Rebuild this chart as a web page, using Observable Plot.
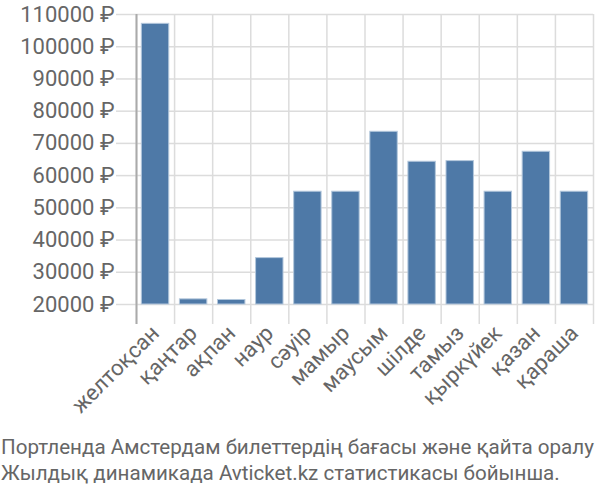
<!DOCTYPE html>
<html>
<head>
<meta charset="utf-8">
<script src="https://cdn.jsdelivr.net/npm/d3@7"></script>
<script src="https://cdn.jsdelivr.net/npm/@observablehq/plot@0.6"></script>
<style>
  body { margin: 0; background: #fff; }
  #caption { font-family: Roboto, sans-serif; font-size: 20.6px; line-height: 26px; color: #666; white-space: nowrap; padding-top: 4px; padding-left: 1px; }
</style>
</head>
<body>
<div id="chart"></div>
<div id="caption">Портленда Амстердам билеттердің бағасы және қайта оралу<br>Жылдық динамикада Avticket.kz статистикасы бойынша.</div>
<script>
const months = ["желтоқсан","қаңтар","ақпан","наур","сәуір","мамыр","маусым","шілде","тамыз","қыркүйек","қазан","қараша"];
const prices = [107100, 21600, 21400, 34400, 55000, 55000, 73600, 64300, 64500, 55000, 67400, 55000];
const yTicks = [20000, 30000, 40000, 50000, 60000, 70000, 80000, 90000, 100000, 110000];
const currency = "₽";

const data = months.map((m, i) => ({i, m, p: prices[i]}));
const edges = d3.range(months.length + 1);

const plot = Plot.plot({
  width: 600,
  height: 430,
  marginTop: 14,
  marginBottom: 126,
  marginLeft: 136,
  marginRight: 7,
  style: {fontFamily: "Roboto, sans-serif", color: "#666", background: "#fff"},
  x: {type: "linear", domain: [0, months.length], axis: null},
  y: {domain: [20000, 110000], axis: null},
  marks: [
    Plot.gridY(yTicks, {stroke: "#dcdcdc", strokeOpacity: 1, strokeWidth: 1.5}),
    Plot.gridX(edges, {stroke: "#dcdcdc", strokeOpacity: 1, strokeWidth: 1.5}),
    Plot.axisY(yTicks, {label: null, tickSize: 20, tickPadding: 2, stroke: "#dcdcdc", strokeWidth: 1.5, fill: "#666", fontSize: 22, tickFormat: d => d + " " + currency}),
    Plot.axisX(edges, {label: null, tickSize: 20, stroke: "#dcdcdc", strokeWidth: 1.5, tickFormat: () => ""}),
    Plot.text(data, {x: d => d.i + 0.5, y: 20000, text: "m", rotate: -45, textAnchor: "end", dy: 25, dx: 0, fontSize: 22, fill: "#666"}),
    Plot.rectY(data, {x1: d => d.i + 0.14, x2: d => d.i + 0.86, y1: 20000, y2: "p", fill: "#4e79a7", stroke: "#b3c7dc", strokeWidth: 1}),
    Plot.ruleX([0], {stroke: "#aaa", strokeWidth: 2}),
    Plot.axisX([0], {label: null, tickSize: 20, stroke: "#aaa", strokeWidth: 2, tickFormat: () => ""})
  ]
});
document.getElementById("chart").appendChild(plot);
</script>
</body>
</html>
